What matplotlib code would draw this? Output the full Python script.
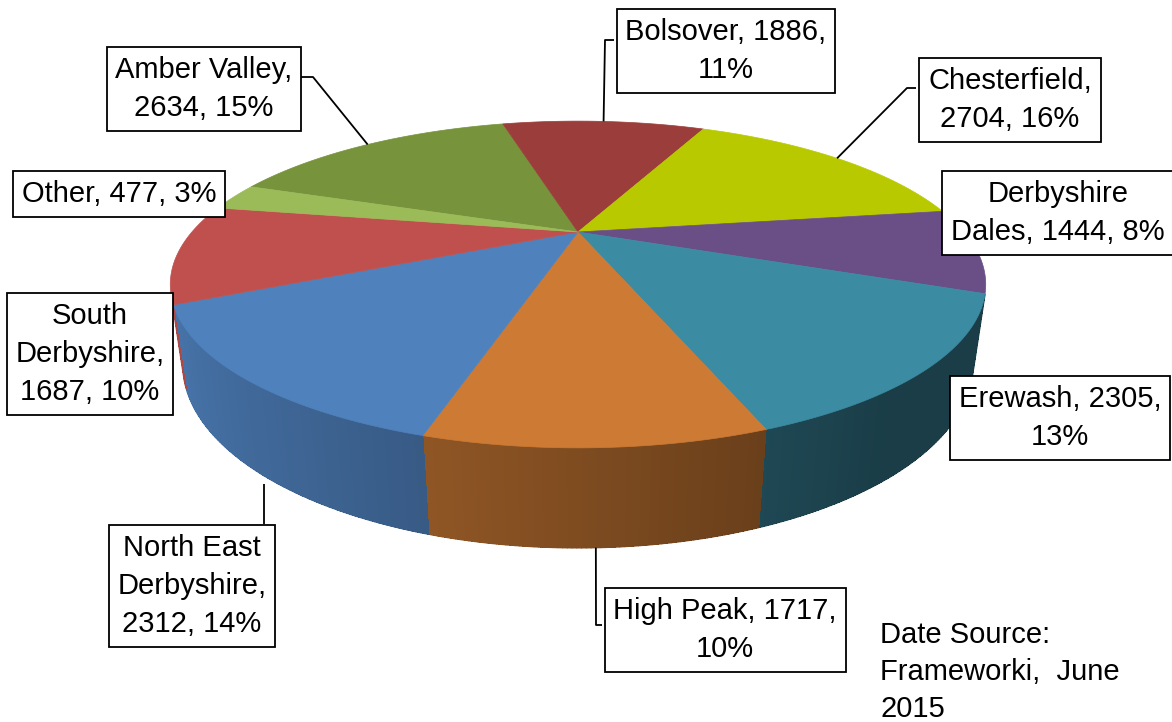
import numpy as np
import matplotlib
matplotlib.use("Agg")
import matplotlib.pyplot as plt
from matplotlib.collections import PolyCollection, LineCollection
from matplotlib.colors import to_rgb

# ---------------- data ----------------
districts = ["Amber Valley", "Bolsover", "Chesterfield", "Derbyshire Dales", "Erewash",
             "High Peak", "North East Derbyshire", "South Derbyshire", "Other"]
values = [2634, 1886, 2704, 1444, 2305, 1717, 2312, 1687, 477]
pct_labels = ["15%", "11%", "16%", "8%", "13%", "10%", "14%", "10%", "3%"]
label_texts = [
    "Amber Valley,\n2634, 15%",
    "Bolsover, 1886,\n11%",
    "Chesterfield,\n2704, 16%",
    "Derbyshire\nDales, 1444, 8%",
    "Erewash, 2305,\n13%",
    "High Peak, 1717,\n10%",
    "North East\nDerbyshire,\n2312, 14%",
    "South\nDerbyshire,\n1687, 10%",
    "Other, 477, 3%",
]
colors = ["#77933C", "#9B3D3A", "#B9C900", "#6A4E86", "#3B8BA2",
          "#CC7A34", "#4F81BD", "#C0504D", "#9BBB59"]
source_text = "Date Source:\nFrameworki,  June\n2015"

# ---------------- 3D projection settings ----------------
first_angle = -70.0          # degrees, clockwise from 12 o'clock (back)
elev = np.radians(22.3)
S, C = np.sin(elev), np.cos(elev)
DIST = 2.88
FOC = 1112.0
CX, CY = 578.0, 232.0
HEIGHT = 0.215


def project(theta_deg, r=1.0, z=0.0):
    t = np.radians(theta_deg)
    x = r * np.sin(t)
    y = -r * np.cos(t)
    depth = DIST - C * y - S * z
    up = -S * y + C * z
    return CX + FOC * x / depth, CY - FOC * up / depth


fig = plt.figure(figsize=(11.72, 7.22), dpi=100)
ax = fig.add_axes([0, 0, 1, 1])
ax.set_xlim(0, 1172)
ax.set_ylim(722, 0)
ax.axis("off")

vals = np.array(values, dtype=float)
angles = vals / vals.sum() * 360.0
starts = first_angle + np.concatenate([[0], np.cumsum(angles)[:-1]])
ends = starts + angles

# visible range of outer wall
vis_lim = np.degrees(np.arccos(-1.0 / (DIST * C)))   # ~112 deg
vis_lo, vis_hi = vis_lim, 360.0 - vis_lim


def shade(theta_deg):
    f = 0.62 - 0.30 * np.sin(np.radians(theta_deg))
    return float(np.clip(f, 0.44, 0.92))

# ----- side walls -----
for st, en, col in zip(starts, ends, colors):
    for off in (0.0, 360.0, -360.0):
        a0 = max(st + off, vis_lo)
        a1 = min(en + off, vis_hi)
        if a1 <= a0:
            continue
        ts = np.linspace(a0, a1, max(2, int((a1 - a0) / 0.5) + 1))
        polys, fcs, segs = [], [], []
        base = np.array(to_rgb(col))
        for t0, t1 in zip(ts[:-1], ts[1:]):
            p = [project(t0, 1, 0), project(t1, 1, 0), project(t1, 1, -HEIGHT), project(t0, 1, -HEIGHT)]
            polys.append(p)
            fcs.append(tuple(base * shade(0.5 * (t0 + t1))))
            segs.append([project(t0, 1, -HEIGHT), project(t1, 1, -HEIGHT)])
        pc = PolyCollection(polys, facecolors=fcs, edgecolors="none", antialiaseds=False, zorder=1)
        ax.add_collection(pc)
        lc = LineCollection(segs, colors=fcs, linewidths=1.0, zorder=1.5, capstyle="round")
        ax.add_collection(lc)
        # silhouette edges of the whole wall
        for tt in (a0, a1):
            if abs(tt - vis_lo) < 1e-6 or abs(tt - vis_hi) < 1e-6:
                e0, e1 = project(tt, 1, 0), project(tt, 1, -HEIGHT)
                ax.plot([e0[0], e1[0]], [e0[1], e1[1]], color=tuple(base * shade(tt)), lw=1.0, zorder=1.5)

# ----- top faces -----
for st, en, col in zip(starts, ends, colors):
    ts = np.linspace(st, en, max(3, int(en - st) * 2 + 1))
    pts = [project(0, 0, 0)] + [project(t, 1, 0) for t in ts]
    ax.fill([p[0] for p in pts], [p[1] for p in pts], facecolor=col, edgecolor=col,
            linewidth=0.5, zorder=2)

# ---------------- labels ----------------
FONT = ["Liberation Sans Narrow", "Liberation Sans", "DejaVu Sans"]
FS = 21
box_centers = [(204, 89), (726, 51), (1010, 100), (1058, 213), (1060, 418),
               (725, 630), (192, 586), (90, 354), (119, 194)]
for (bx, by), txt in zip(box_centers, label_texts):
    ax.text(bx, by, txt, ha="center", va="center", multialignment="center",
            fontsize=FS, family=FONT, linespacing=1.45, zorder=5,
            bbox=dict(boxstyle="square,pad=0.3", facecolor="white", edgecolor="black", linewidth=1.3))

# leader lines: (slice index, box-side start, elbow, rim: 'top' or 'bottom')
leaders = [
    (0, (301, 77), (313, 77), "top"),
    (1, (614, 40), (605, 40), "top"),
    (2, (916, 88), (907, 88), "top"),
    (6, (264, 524), (264, 524), "bottom"),
    (5, (602, 625), (596, 625), "bottom"),
]
for idx, p0, p1, rim in leaders:
    mid = 0.5 * (starts[idx] + ends[idx])
    ax_, ay_ = project(mid, 1.0, 0.0 if rim == "top" else -HEIGHT)
    if rim == "bottom" and idx == 6:
        ax_, ay_ = p0[0], ay_ + 12
    ax.plot([p0[0], p1[0], ax_], [p0[1], p1[1], ay_], color="black", lw=1.3, zorder=4,
            solid_capstyle="butt")

ax.text(880, 621, source_text, ha="left", va="top", fontsize=FS, family=FONT,
        linespacing=1.42, zorder=5)

fig.savefig("out.png", dpi=100)
